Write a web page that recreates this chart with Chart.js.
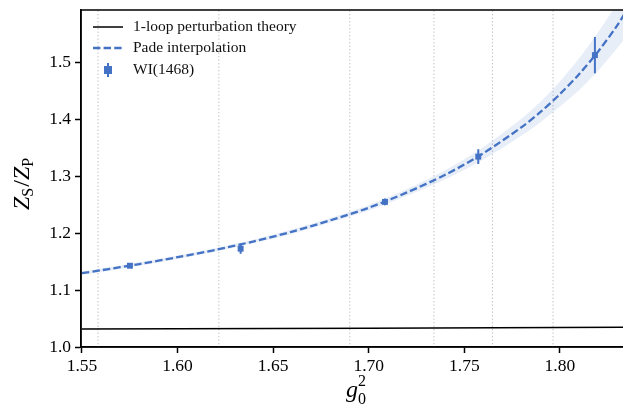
<!DOCTYPE html>
<html>
<head>
<meta charset="utf-8">
<script src="https://cdn.jsdelivr.net/npm/chart.js@4.4.1/dist/chart.umd.min.js"></script>
<style>
  html, body { margin: 0; padding: 0; background: #fff; }
  #zs_zp_chart { display: block; }
</style>
</head>
<body>
<canvas id="zs_zp_chart" width="623" height="411"></canvas>
<script>
// g0^2 positions of the WI(1468) measurements and their values / errors
const wiG2 = [1.5751, 1.6330, 1.7085, 1.7573, 1.8183];
const wiValues = [1.143, 1.173, 1.2553, 1.335, 1.5136];
const wiErrors = [0.004, 0.009, 0.006, 0.013, 0.032];

// Pade interpolation curve and its error band
const padeG2 = [1.55, 1.56, 1.58, 1.60, 1.62, 1.64, 1.66, 1.68, 1.70, 1.72, 1.74, 1.76, 1.78, 1.79, 1.80, 1.81, 1.82, 1.83, 1.835];
const padeValues = [1.130, 1.135, 1.146, 1.158, 1.171, 1.186, 1.203, 1.223, 1.245, 1.272, 1.303, 1.341, 1.387, 1.414, 1.445, 1.480, 1.520, 1.566, 1.593];
const padeUpper = [1.133, 1.138, 1.149, 1.161, 1.174, 1.189, 1.207, 1.227, 1.250, 1.278, 1.311, 1.352, 1.402, 1.432, 1.467, 1.508, 1.554, 1.606, 1.638];
const padeLower = [1.127, 1.132, 1.143, 1.155, 1.168, 1.183, 1.199, 1.219, 1.240, 1.266, 1.295, 1.330, 1.372, 1.396, 1.423, 1.452, 1.486, 1.526, 1.548];

// 1-loop perturbation theory
const oneLoopG2 = [1.55, 1.70, 1.835];
const oneLoopValues = [1.0315, 1.0331, 1.0348];

// dotted vertical markers (simulation couplings)
const markerG2 = [1.5584, 1.6216, 1.6901, 1.7341, 1.7647, 1.7964];

// axis ticks
const xTickValues = [1.55, 1.60, 1.65, 1.70, 1.75, 1.80];
const xTickLabels = ['1.55', '1.60', '1.65', '1.70', '1.75', '1.80'];
const yTickValues = [1.0, 1.1, 1.2, 1.3, 1.4, 1.5];
const yTickLabels = ['1.0', '1.1', '1.2', '1.3', '1.4', '1.5'];

const blue = '#4472c4';
const serif = '"Liberation Serif", "DejaVu Serif", serif';

function toXY(xs, ys) {
    return xs.map((x, i) => ({ x: x, y: ys[i] }));
}

var datasets = [];
markerG2.forEach(g => {
    datasets.push({
        type: 'line',
        data: [{ x: g, y: 0.9 }, { x: g, y: 1.7 }],
        borderColor: '#bdbdbd',
        borderWidth: 1,
        borderDash: [1.3, 2.2],
        pointRadius: 0,
        fill: false,
        order: 10
    });
});
datasets.push({
    type: 'line', label: 'band_upper',
    data: toXY(padeG2, padeUpper),
    borderWidth: 0, pointRadius: 0, tension: 0.3,
    backgroundColor: 'rgba(68, 114, 196, 0.12)',
    fill: '+1', order: 5
});
datasets.push({
    type: 'line', label: 'band_lower',
    data: toXY(padeG2, padeLower),
    borderWidth: 0, pointRadius: 0, tension: 0.3,
    fill: false, order: 5
});
datasets.push({
    type: 'line', label: '1-loop perturbation theory',
    data: toXY(oneLoopG2, oneLoopValues),
    borderColor: '#000', borderWidth: 1.5, pointRadius: 0, fill: false, order: 3
});
datasets.push({
    type: 'line', label: 'Pade interpolation',
    data: toXY(padeG2, padeValues),
    borderColor: blue, borderWidth: 2.3, borderDash: [7.4, 3.2],
    pointRadius: 0, tension: 0.3, fill: false, order: 2
});
datasets.push({
    type: 'scatter', label: 'WI(1468)',
    data: toXY(wiG2, wiValues),
    pointStyle: 'rect', pointRadius: 4.2,
    backgroundColor: blue, borderColor: blue, borderWidth: 0, order: 1
});

// draws vertical error bars for the WI points
const errorBars = {
    id: 'errorBars',
    afterDatasetsDraw(chart) {
        const ctx = chart.ctx, xs = chart.scales.x, ys = chart.scales.y;
        ctx.save();
        ctx.strokeStyle = blue;
        ctx.lineWidth = 2;
        wiG2.forEach((g, i) => {
            const px = xs.getPixelForValue(g);
            ctx.beginPath();
            ctx.moveTo(px, ys.getPixelForValue(wiValues[i] - wiErrors[i]));
            ctx.lineTo(px, ys.getPixelForValue(wiValues[i] + wiErrors[i]));
            ctx.stroke();
        });
        ctx.restore();
    }
};

// frame, legend and axis titles
const decorations = {
    id: 'decorations',
    afterDraw(chart) {
        const ctx = chart.ctx, a = chart.chartArea;
        ctx.save();
        ctx.strokeStyle = '#000';
        ctx.lineWidth = 1.5;
        ctx.strokeRect(a.left, a.top, a.right - a.left + 2, a.bottom - a.top);

        // legend
        ctx.font = '15.5px ' + serif;
        ctx.fillStyle = '#111';
        ctx.textBaseline = 'middle';
        ctx.textAlign = 'left';
        ctx.lineWidth = 1.5;
        ctx.strokeStyle = '#000';
        ctx.beginPath(); ctx.moveTo(93, 27); ctx.lineTo(123, 27); ctx.stroke();
        ctx.fillText('1-loop perturbation theory', 133, 27);
        ctx.strokeStyle = blue; ctx.lineWidth = 2.3;
        ctx.setLineDash([7.4, 3.2]);
        ctx.beginPath(); ctx.moveTo(93, 48); ctx.lineTo(123, 48); ctx.stroke();
        ctx.setLineDash([]);
        ctx.fillText('Pade interpolation', 133, 48);
        ctx.lineWidth = 2;
        ctx.beginPath(); ctx.moveTo(108, 63); ctx.lineTo(108, 77); ctx.stroke();
        ctx.fillStyle = blue;
        ctx.fillRect(104, 66, 8, 8);
        ctx.fillStyle = '#111';
        ctx.fillText('WI(1468)', 133, 70);

        // x title g_0^2
        ctx.fillStyle = '#000';
        ctx.textBaseline = 'alphabetic';
        ctx.font = 'italic 24px ' + serif;
        ctx.fillText('g', 346, 397);
        ctx.font = '16px ' + serif;
        ctx.fillText('0', 358, 404);
        ctx.fillText('2', 358, 386);

        // y title Z_S/Z_P
        ctx.translate(29, 176);
        ctx.rotate(-Math.PI / 2);
        let x = -34;
        ctx.font = 'italic 24px ' + serif;
        ctx.fillText('Z', x, 0); x += ctx.measureText('Z').width;
        ctx.font = '16px ' + serif;
        ctx.fillText('S', x, 4); x += ctx.measureText('S').width + 1;
        ctx.font = '24px ' + serif;
        ctx.fillText('/', x, 0); x += ctx.measureText('/').width;
        ctx.font = 'italic 24px ' + serif;
        ctx.fillText('Z', x, 0); x += ctx.measureText('Z').width;
        ctx.font = '16px ' + serif;
        ctx.fillText('P', x, 4);
        ctx.restore();
    }
};

var chart_ctx = document.getElementById('zs_zp_chart');
var zs_chart = new Chart(chart_ctx, {
    data: { datasets: datasets },
    plugins: [errorBars, decorations],
    options: {
        responsive: false,
        animation: false,
        devicePixelRatio: 1,
        layout: { autoPadding: false, padding: { top: 10, right: 0, left: 0, bottom: 0 } },
        plugins: { legend: { display: false }, tooltip: { enabled: false } },
        scales: {
            x: {
                type: 'linear', min: 1.5495, max: 1.8330,
                afterBuildTicks: s => { s.ticks = xTickValues.map(v => ({ value: v })); },
                afterFit: s => { s.height = 64; s.paddingLeft = 0; s.paddingRight = 0; },
                ticks: {
                    callback: v => xTickLabels[xTickValues.indexOf(v)],
                    font: { family: serif, size: 17.5 }, color: '#000', padding: 3, maxRotation: 0
                },
                grid: { drawOnChartArea: false, color: '#000', tickLength: 6, tickWidth: 1.5 },
                border: { color: '#000', width: 1.5 }
            },
            y: {
                type: 'linear', min: 1.0, max: 1.593,
                afterBuildTicks: s => { s.ticks = yTickValues.map(v => ({ value: v })); },
                afterFit: s => { s.width = 81; s.paddingTop = 0; s.paddingBottom = 0; },
                ticks: {
                    callback: v => yTickLabels[yTickValues.indexOf(v)],
                    font: { family: serif, size: 17.5 }, color: '#000', padding: 4
                },
                grid: { drawOnChartArea: false, color: '#000', tickLength: 6, tickWidth: 1.5 },
                border: { color: '#000', width: 1.5 }
            }
        }
    }
});
</script>
</body>
</html>
